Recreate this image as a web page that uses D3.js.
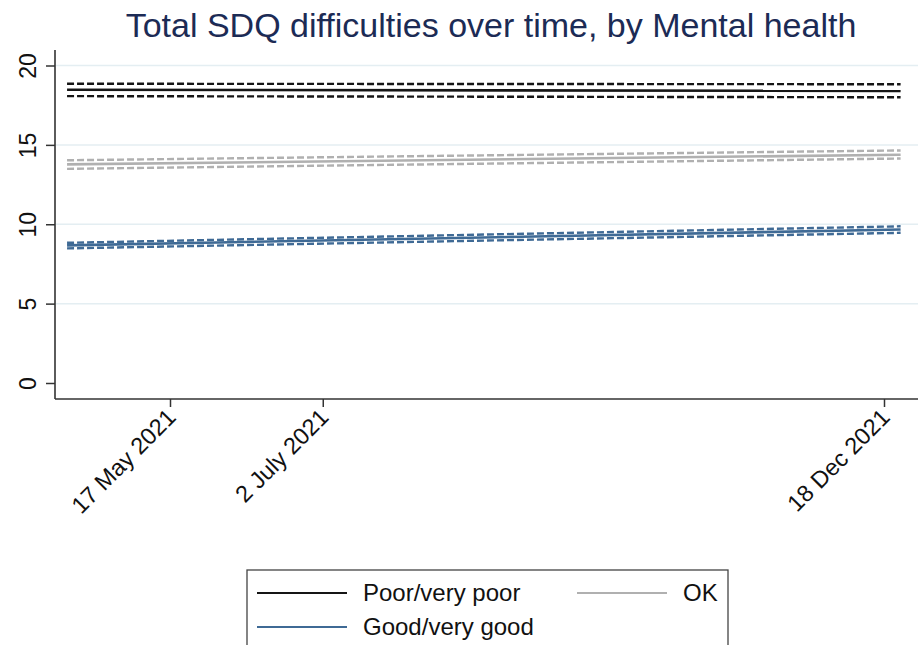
<!DOCTYPE html>
<html><head><meta charset="utf-8">
<script src="https://cdn.jsdelivr.net/npm/d3@7"></script>
<style>html,body{margin:0;padding:0;background:#fff;}svg{display:block;}</style>
</head><body>
<svg id="c" width="918" height="645"></svg>
<script>
const title = "Total SDQ difficulties over time, by Mental health";
const groups = ["Poor/very poor", "OK", "Good/very good"];
const dates = ["2021-04-16", "2021-12-23"];
const meanPoor = [18.47, 18.40];
const upperPoor = [18.85, 18.82];
const lowerPoor = [18.07, 18.00];
const meanOK = [13.77, 14.38];
const upperOK = [14.03, 14.65];
const lowerOK = [13.49, 14.14];
const meanGood = [8.67, 9.67];
const upperGood = [8.83, 9.87];
const lowerGood = [8.48, 9.46];
const yTicks = [0, 5, 10, 15, 20];
const xTickDates = ["2021-05-17", "2021-07-02", "2021-12-18"];
const xTickLabels = ["17 May 2021", "2 July 2021", "18 Dec 2021"];
const colors = ["#151515", "#b0b0b0", "#3f6a95"];

const parse = d3.utcParse("%Y-%m-%d");
const svg = d3.select("#c");
const font = "'Liberation Sans', Arial, sans-serif";

const x = d3.scaleUtc().domain([parse("2021-05-17"), parse("2021-12-18")]).range([170, 884]);
const y = d3.scaleLinear().domain([0, 20]).range([383, 65.5]);
const plotL = 55, plotR = 918, plotT = 50, plotB = 399;

// gridlines
svg.append("g").selectAll("line").data(yTicks.filter(v => v > 0)).join("line")
  .attr("x1", plotL + 1).attr("x2", plotR).attr("y1", d => y(d)).attr("y2", d => y(d))
  .attr("stroke", "#e4eef2").attr("stroke-width", 1.5);

// series
const series = [
  {mean: meanPoor, up: upperPoor, lo: lowerPoor},
  {mean: meanOK, up: upperOK, lo: lowerOK},
  {mean: meanGood, up: upperGood, lo: lowerGood}
];
const line = d3.line().x(d => x(d[0])).y(d => y(d[1]));
const dd = dates.map(parse);
series.forEach((s, i) => {
  const g = svg.append("g");
  [s.up, s.lo].forEach(arr => {
    g.append("path").datum(dd.map((d, j) => [d, arr[j]])).attr("d", line)
      .attr("fill", "none").attr("stroke", colors[i]).attr("stroke-width", 2.4)
      .attr("stroke-dasharray", "7,3");
  });
  g.append("path").datum(dd.map((d, j) => [d, s.mean[j]])).attr("d", line)
    .attr("fill", "none").attr("stroke", colors[i]).attr("stroke-width", 2.6);
});

// y axis
const yAxis = svg.append("g").attr("transform", `translate(${plotL},0)`)
  .call(d3.axisLeft(y).tickValues(yTicks).tickSize(9).tickPadding(17).tickFormat(d3.format("d")));
yAxis.select(".domain").remove();
yAxis.selectAll(".tick line").attr("stroke", "#333").attr("stroke-width", 1.5);
yAxis.selectAll(".tick text").attr("transform", "rotate(-90)")
  .attr("x", 0).attr("y", -27).attr("dy", "0.35em").attr("text-anchor", "middle")
  .attr("font-family", font).attr("font-size", 23).attr("fill", "#111");
svg.append("line").attr("x1", plotL).attr("x2", plotL).attr("y1", plotT).attr("y2", plotB)
  .attr("stroke", "#333").attr("stroke-width", 1.6);

// x axis
const xAxis = svg.append("g").attr("transform", `translate(0,${plotB})`)
  .call(d3.axisBottom(x).tickValues(xTickDates.map(parse)).tickSize(8)
    .tickFormat((d, i) => xTickLabels[i]));
xAxis.select(".domain").remove();
xAxis.selectAll(".tick line").attr("stroke", "#333").attr("stroke-width", 1.5);
xAxis.selectAll(".tick text").attr("text-anchor", "end")
  .attr("transform", "translate(1,14) rotate(-45)").attr("y", 0).attr("x", 0).attr("dy", "0.35em")
  .attr("font-family", font).attr("font-size", 23.5).attr("fill", "#111");
svg.append("line").attr("x1", plotL).attr("x2", plotR).attr("y1", plotB).attr("y2", plotB)
  .attr("stroke", "#333").attr("stroke-width", 1.6);

// title
svg.append("text").attr("x", 491).attr("y", 37).attr("text-anchor", "middle")
  .attr("font-family", font).attr("font-size", 34).attr("fill", "#1c2b55").text(title);

// legend
const lg = svg.append("g");
lg.append("rect").attr("x", 247).attr("y", 570).attr("width", 481).attr("height", 90)
  .attr("fill", "#fff").attr("stroke", "#444").attr("stroke-width", 1.3);
const pos = [[257, 593], [577, 593], [257, 627]];
groups.forEach((gname, i) => {
  const [lx, ly] = pos[i];
  lg.append("line").attr("x1", lx).attr("x2", lx + 90).attr("y1", ly).attr("y2", ly)
    .attr("stroke", colors[i]).attr("stroke-width", 2.2);
  lg.append("text").attr("x", lx + 106).attr("y", ly).attr("dy", "0.35em")
    .attr("font-family", font).attr("font-size", 24).attr("fill", "#111").text(gname);
});
</script>
</body></html>
